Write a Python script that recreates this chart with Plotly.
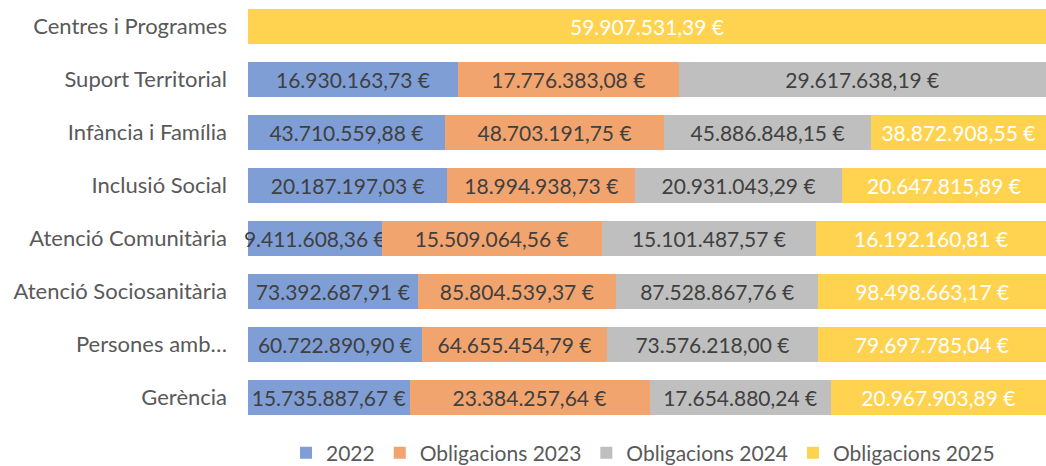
import plotly.graph_objects as go

categories = ["Centres i Programes", "Suport Territorial", "Infància i Família", "Inclusió Social",
              "Atenció Comunitària", "Atenció Sociosanitària", "Persones amb…", "Gerència"]
series_names = ["2022", "Obligacions 2023", "Obligacions 2024", "Obligacions 2025"]
v2022 = [None, 16930163.73, 43710559.88, 20187197.03, 9411608.36, 73392687.91, 60722890.90, 15735887.67]
v2023 = [None, 17776383.08, 48703191.75, 18994938.73, 15509064.56, 85804539.37, 64655454.79, 23384257.64]
v2024 = [None, 29617638.19, 45886848.15, 20931043.29, 15101487.57, 87528867.76, 73576218.00, 17654880.24]
v2025 = [59907531.39, None, 38872908.55, 20647815.89, 16192160.81, 98498663.17, 79697785.04, 20967903.89]

colors = ["#7F9ED6", "#F2A46E", "#BFBFBF", "#FFD34F"]
text_colors = ["#404040", "#404040", "#404040", "#FFFFFF"]
FONT = "Lato, 'Open Sans', sans-serif"


def fmt(v):
    if v is None:
        return ""
    s = f"{v:,.2f}"
    s = s.replace(",", "X").replace(".", ",").replace("X", ".")
    return s + " €"


fig = go.Figure()
for name, vals, c, tc in zip(series_names, [v2022, v2023, v2024, v2025], colors, text_colors):
    fig.add_trace(go.Bar(
        y=categories, x=vals, name=name, orientation="h",
        marker=dict(color=c, line=dict(width=0)),
        text=[fmt(v) for v in vals], textposition="inside", insidetextanchor="middle",
        constraintext="none", cliponaxis=False,
        textfont=dict(family=FONT, size=21, color=tc),
    ))

fig.update_layout(
    width=1046, height=466,
    barmode="stack", barnorm="percent", bargap=0.35,
    paper_bgcolor="white", plot_bgcolor="white",
    margin=dict(l=248, r=0, t=0, b=42, autoexpand=False),
    font=dict(family=FONT, size=21, color="#595959"),
    xaxis=dict(visible=False, range=[0, 100], fixedrange=True, automargin=False),
    yaxis=dict(autorange="reversed", showgrid=False, showline=False, ticks="", automargin=False,
               ticklabelstandoff=20, tickfont=dict(family=FONT, size=22, color="#595959")),
    legend=dict(orientation="h", x=0.495, xanchor="center", xref="paper",
                y=-0.02, yanchor="top", yref="paper",
                font=dict(family=FONT, size=21, color="#595959"),
                itemwidth=30, tracegroupgap=0, traceorder="normal"),
    showlegend=True,
)

fig.write_html("out.html", config={"displayModeBar": False},
               post_script="document.body.style.margin='0';document.body.style.overflow='hidden';")
